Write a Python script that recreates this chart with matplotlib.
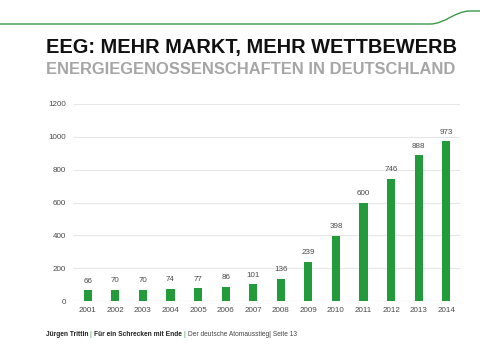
import matplotlib
matplotlib.use("Agg")
import matplotlib.pyplot as plt
from matplotlib.path import Path
from matplotlib.patches import PathPatch

years = ["2001", "2002", "2003", "2004", "2005", "2006", "2007",
         "2008", "2009", "2010", "2011", "2012", "2013", "2014"]
values = [66, 70, 70, 74, 77, 86, 101, 136, 239, 398, 600, 746, 888, 973]
yticks = [0, 200, 400, 600, 800, 1000, 1200]

title = "EEG: MEHR MARKT, MEHR WETTBEWERB"
subtitle = "ENERGIEGENOSSENSCHAFTEN IN DEUTSCHLAND"

plt.rcParams['font.family'] = ['Liberation Sans', 'DejaVu Sans']

W, H = 480, 360
fig = plt.figure(figsize=(4.8, 3.6), dpi=100)
fig.patch.set_facecolor("white")

GREEN = "#239b3a"

# top decorative line (figure pixel coords, y from top)
def fp(x, y):
    return (x / W, 1 - y / H)
verts = [fp(0, 24), fp(430, 24), fp(445, 24), fp(455, 11), fp(470, 11), fp(480, 11)]
codes = [Path.MOVETO, Path.LINETO, Path.CURVE4, Path.CURVE4, Path.CURVE4, Path.LINETO]
fig.patches.append(PathPatch(Path(verts, codes), transform=fig.transFigure,
                             facecolor="none", edgecolor="#3a9a48", lw=1.0))

fig.text(46 / W, 1 - 47.5 / H, title, fontsize=14.4, fontweight="bold",
         color="#111111", ha="left", va="center")
fig.text(46 / W, 1 - 69 / H, subtitle, fontsize=11.9, fontweight="bold",
         color="#a6a6a6", ha="left", va="center")

ax = fig.add_axes([74 / W, 1 - 301 / H, (460 - 74) / W, (301 - 104) / H])
x = list(range(len(years)))
ax.bar(x, values, width=0.3, color=GREEN, zorder=3)
ax.set_xlim(-0.5, 13.5)
ax.set_ylim(0, 1200)
ax.set_yticks(yticks)
ax.set_yticklabels([str(v) for v in yticks])
ax.set_xticks(x)
ax.set_xticklabels(years)
ax.tick_params(axis="both", length=0, labelsize=5.8, labelcolor="#4a4a4a")
ax.tick_params(axis="y", pad=6)
ax.tick_params(axis="x", pad=4)
ax.grid(axis="y", color="#e6e6e6", lw=0.8, zorder=0)
for s in ax.spines.values():
    s.set_visible(False)
ax.axhline(0, color="#d9d9d9", lw=0.8, zorder=2)

for xi, v in zip(x, values):
    ax.annotate(str(v), (xi, v), xytext=(0, 4), textcoords="offset points",
                ha="center", va="bottom", fontsize=5.8, color="#4a4a4a")

# footer
fs = 4.8
prev = fig.text(46 / W, 1 - 334 / H, "Jürgen Trittin ", fontsize=fs,
                fontweight="bold", color="#222222", ha="left", va="center")
parts = [("| ", "normal", "#3a9a48"),
         ("Für ein Schrecken mit Ende ", "bold", "#222222"),
         ("| ", "normal", "#3a9a48"),
         ("Der deutsche Atomausstieg| Seite 13", "normal", "#444444")]
for txt, wgt, col in parts:
    prev = ax.annotate(txt, xy=(1, 0), xycoords=prev, xytext=(0, 0),
                       textcoords="offset points", ha="left", va="bottom",
                       fontsize=fs, fontweight=wgt, color=col,
                       annotation_clip=False)

fig.savefig("out.png", dpi=100, facecolor="white")
